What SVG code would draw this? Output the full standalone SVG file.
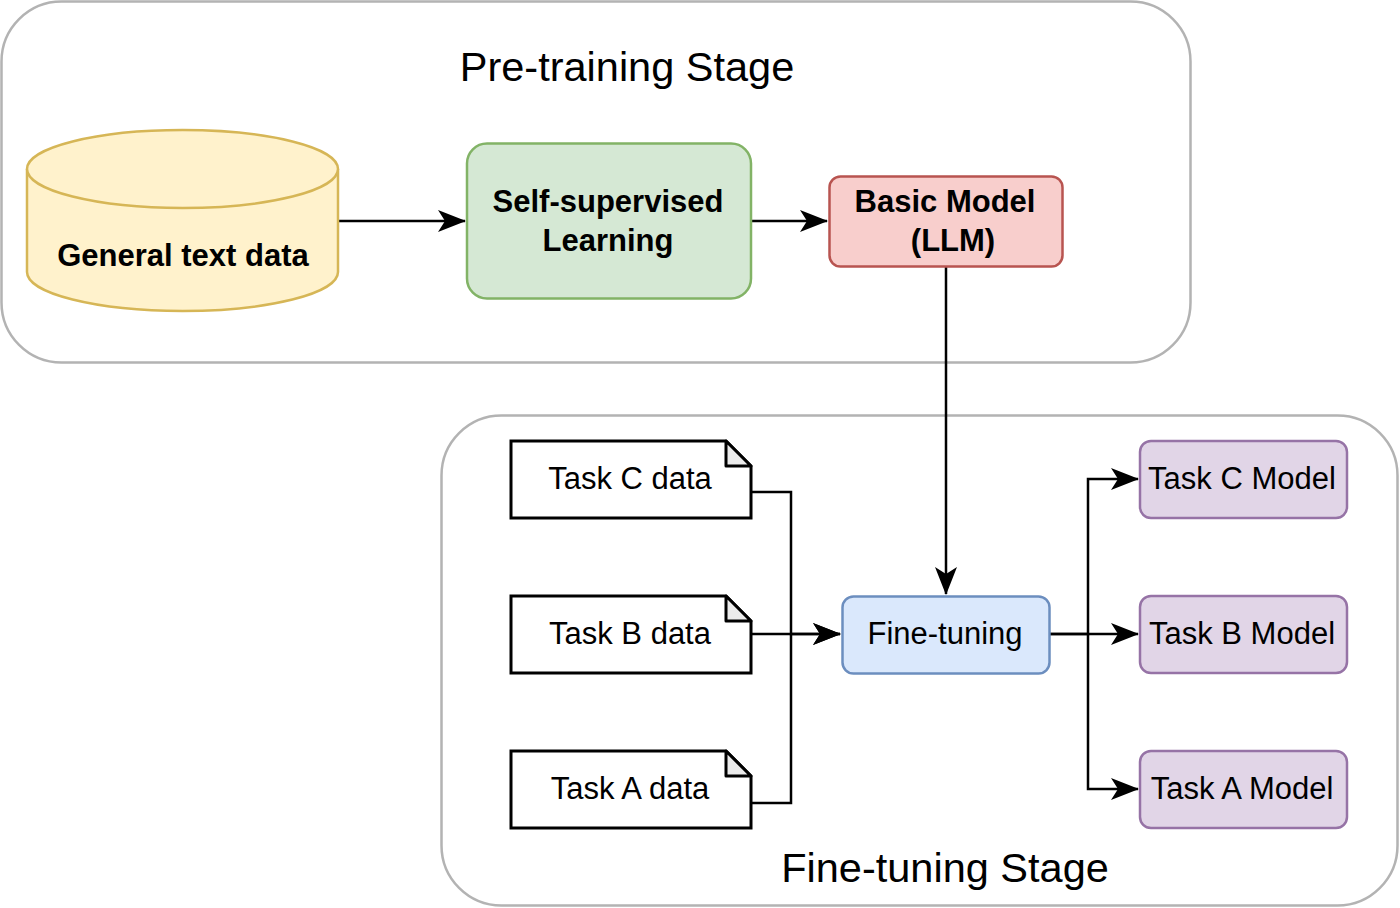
<svg xmlns="http://www.w3.org/2000/svg" width="1400" height="908" viewBox="0 0 1400 908">
<defs>
<marker id="arr" viewBox="0 0 28 22" refX="27" refY="11" markerWidth="28" markerHeight="22" markerUnits="userSpaceOnUse" orient="auto">
<path d="M0,0 L28,11 L0,22 L7,11 Z" fill="#000"/>
</marker>
<style>
.stage{fill:#fff;stroke:#b3b3b3;stroke-width:2.5}
.st{font-family:"Liberation Sans",Arial,sans-serif;font-size:41.5px;fill:#000;text-anchor:middle}
.b{font-family:"Liberation Sans",Arial,sans-serif;font-size:31px;font-weight:bold;fill:#000;text-anchor:middle}
.r{font-family:"Liberation Sans",Arial,sans-serif;font-size:31px;fill:#000;text-anchor:middle}
.doc{fill:#fff;stroke:#000;stroke-width:3}
.fold{fill:#ebebeb;stroke:#000;stroke-width:3;stroke-linejoin:round}
.model{fill:#e1d5e7;stroke:#9673a6;stroke-width:2.5}
.edge{fill:none;stroke:#000;stroke-width:2.5}
</style>
</defs>
<g id="pretraining-stage">
<rect class="stage" x="1.5" y="1.5" width="1189" height="361" rx="60"/>
<text class="st" x="627" y="81">Pre-training Stage</text>
</g>
<g id="finetuning-stage">
<rect class="stage" x="441.5" y="415.5" width="956" height="490" rx="60"/>
<text class="st" x="945" y="882">Fine-tuning Stage</text>
</g>
<g id="edges">
<path class="edge" d="M338,221 H465" marker-end="url(#arr)"/>
<path class="edge" d="M751,221 H827" marker-end="url(#arr)"/>
<path class="edge" d="M946,266 V594" marker-end="url(#arr)"/>
<path class="edge" d="M751,492 H791 V634 H840" marker-end="url(#arr)"/>
<path class="edge" d="M751,634 H840" marker-end="url(#arr)"/>
<path class="edge" d="M751,803 H791 V634"/>
<path class="edge" d="M1049,634 H1088 V479 H1138" marker-end="url(#arr)"/>
<path class="edge" d="M1049,634 H1138" marker-end="url(#arr)"/>
<path class="edge" d="M1088,634 V789 H1138" marker-end="url(#arr)"/>
</g>
<g id="general-text-data">
<path d="M27,169 V272 A155.5,39 0 0 0 338,272 V169" fill="#fff2cc" stroke="#d6b656" stroke-width="2.5"/>
<ellipse cx="182.5" cy="169" rx="155.5" ry="39" fill="#fff2cc" stroke="#d6b656" stroke-width="2.5"/>
<text class="b" x="183" y="266">General text data</text>
</g>
<g id="self-supervised">
<rect x="467" y="143.5" width="284" height="155" rx="20" fill="#d5e8d4" stroke="#82b366" stroke-width="2.5"/>
<text class="b" x="608" y="212">Self-supervised</text>
<text class="b" x="608" y="251">Learning</text>
</g>
<g id="basic-model">
<rect x="829.5" y="176.5" width="233" height="90" rx="11" fill="#f8cecc" stroke="#b85450" stroke-width="2.5"/>
<text class="b" x="945" y="212">Basic Model</text>
<text class="b" x="953" y="251">(LLM)</text>
</g>
<g id="task-c-data">
<path class="doc" d="M511,441 H726 L751,466 V518 H511 Z"/>
<path class="fold" d="M726,441 V466 H751 Z"/>
<text class="r" x="630" y="489">Task C data</text>
</g>
<g id="task-b-data">
<path class="doc" d="M511,596 H726 L751,621 V673 H511 Z"/>
<path class="fold" d="M726,596 V621 H751 Z"/>
<text class="r" x="630" y="644">Task B data</text>
</g>
<g id="task-a-data">
<path class="doc" d="M511,751 H726 L751,776 V828 H511 Z"/>
<path class="fold" d="M726,751 V776 H751 Z"/>
<text class="r" x="630" y="799">Task A data</text>
</g>
<g id="fine-tuning">
<rect x="842.5" y="596.5" width="207" height="77" rx="11" fill="#dae8fc" stroke="#6c8ebf" stroke-width="2.5"/>
<text class="r" x="945" y="644">Fine-tuning</text>
</g>
<g id="task-c-model">
<rect class="model" x="1140" y="441" width="207" height="77" rx="11"/>
<text class="r" x="1242" y="489">Task C Model</text>
</g>
<g id="task-b-model">
<rect class="model" x="1140" y="596" width="207" height="77" rx="11"/>
<text class="r" x="1242" y="644">Task B Model</text>
</g>
<g id="task-a-model">
<rect class="model" x="1140" y="751" width="207" height="77" rx="11"/>
<text class="r" x="1242" y="799">Task A Model</text>
</g>
</svg>
